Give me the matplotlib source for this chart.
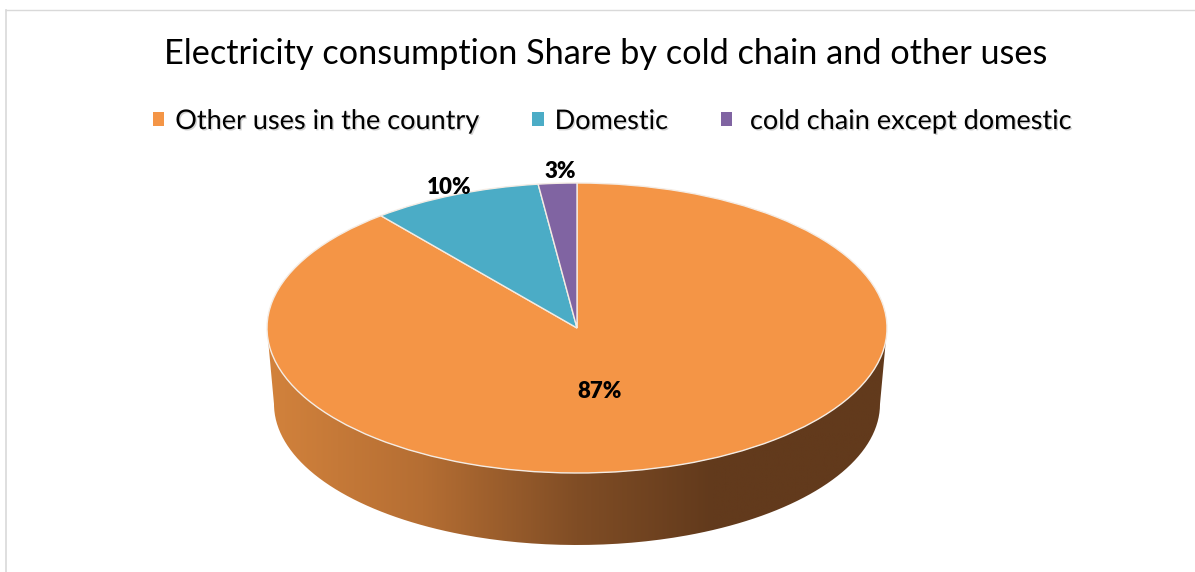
import numpy as np
import matplotlib
matplotlib.use("Agg")
import matplotlib.pyplot as plt
import matplotlib.patheffects as pe
from matplotlib.colors import LinearSegmentedColormap
from matplotlib.path import Path
from matplotlib.patches import PathPatch

plt.rcParams['font.family'] = ['Lato', 'DejaVu Sans']

title = 'Electricity consumption Share by cold chain and other uses'
categories = ['Other uses in the country', 'Domestic', ' cold chain except domestic']
# slice sizes as they look in the tilted pie, the printed labels differ a bit
shares = [89.1, 8.9, 2.0]
labels = ['87%', '10%', '3%']
colors = ['#F49546', '#4BACC6', '#8064A2']

W, H = 1195, 572
cx, cy, rx, ry = 577, 328, 310, 145  # top ellipse in pixels


def to_x(px):
    return (px - cx) / rx


def to_y(py):
    return (cy - py) / ry


fig = plt.figure(figsize=(W / 100, H / 100), dpi=100)
ax = fig.add_axes([0, 0, 1, 1])

# pie top, clockwise from 12 o'clock
wedges, _ = ax.pie(shares, colors=colors, startangle=90, counterclock=False,
                   radius=1, center=(0, 0),
                   wedgeprops=dict(edgecolor='#F4ECE4', linewidth=1.0, zorder=3))
ax.set_aspect('auto')
ax.axis('off')

# side wall with a left to right gradient
t = np.linspace(np.pi, 2 * np.pi, 200)
top_x, top_y = np.cos(t), np.sin(t)
bot_x = to_x(cx + 303 * np.cos(t[::-1]))
bot_y = to_y(404 - 141 * np.sin(t[::-1]))
verts = np.vstack([np.column_stack([top_x, top_y]),
                   np.column_stack([bot_x, bot_y]),
                   [[top_x[0], top_y[0]]]])
wall = PathPatch(Path(verts), facecolor='none', edgecolor='none', transform=ax.transData)
ax.add_patch(wall)
wall_cmap = LinearSegmentedColormap.from_list(
    'wall', [(0, '#D2823C'), (0.25, '#B56E33'), (0.5, '#804D25'), (0.72, '#623A1C'), (1, '#623A1C')])
im = ax.imshow(np.linspace(0, 1, 256).reshape(1, -1), cmap=wall_cmap, aspect='auto',
               extent=[to_x(268), to_x(886), to_y(550), to_y(320)], zorder=1)
im.set_clip_path(wall)
ax.set_xlim(to_x(0), to_x(W))
ax.set_ylim(to_y(H), to_y(0))

# data labels
label_pos = [(600, 391), (449, 187), (560, 171)]
for lab, (px, py) in zip(labels, label_pos):
    ax.text(to_x(px), to_y(py), lab, ha='center', va='center', fontsize=16,
            fontweight='heavy', color='black', zorder=5)

fig.text(605.5 / W, 1 - 54.5 / H, title, ha='center', va='center', fontsize=24.7, color='black')

leg = ax.legend(wedges, categories, ncols=3, loc='center', frameon=False,
                bbox_to_anchor=(612.5 / W, 1 - 121.5 / H), fontsize=19.5,
                handlelength=0.42, handleheight=0.42, handletextpad=0.4,
                columnspacing=1.95, labelcolor='black')
for txt in leg.get_texts():
    txt.set_path_effects([pe.withSimplePatchShadow(offset=(1, -1), alpha=0.25, shadow_rgbFace='#555555')])
for h in leg.legend_handles:
    h.set_edgecolor('none')

# screenshot frame
fig.add_artist(plt.Line2D([6.5 / W, 6.5 / W], [0, 1 - 9.5 / H], color='#D9D9D9', lw=1.2))
fig.add_artist(plt.Line2D([6.5 / W, 1], [1 - 9.5 / H, 1 - 9.5 / H], color='#D9D9D9', lw=1.0))

fig.savefig('out.png', dpi=100, facecolor='white')
